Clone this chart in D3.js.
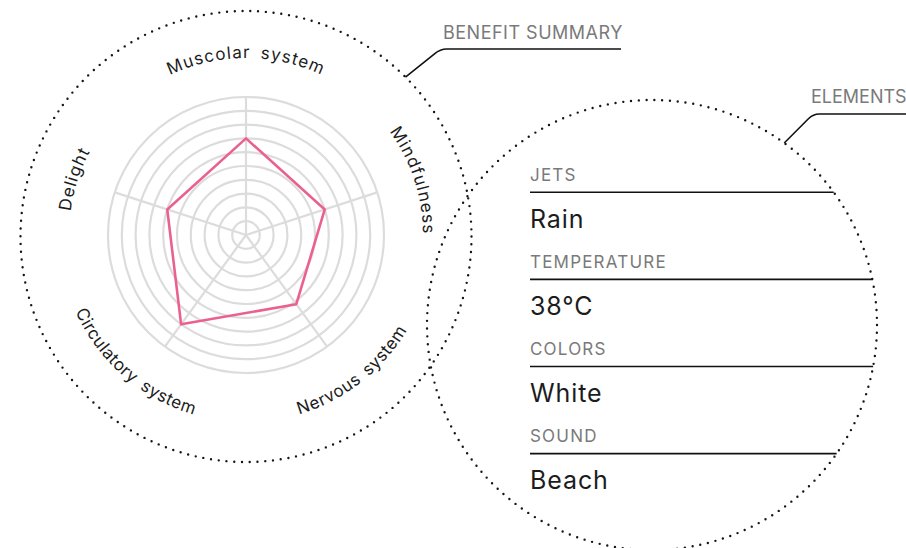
<!DOCTYPE html>
<html><head><meta charset="utf-8">
<script src="https://cdn.jsdelivr.net/npm/d3@7"></script>
<style>
html,body{margin:0;padding:0;background:#fff;}
svg{display:block;}
</style></head><body>
<svg id="chart" width="906" height="548"></svg>
<script>
// ---- data ----
const axes = ["Muscolar system", "Mindfulness", "Nervous system", "Circulatory system", "Delight"];
const benefitValues = [7, 6, 6.2, 8, 6];
const gridLevels = [1, 2, 3, 4, 5, 6, 7, 8, 9, 10];
const elementLabels = ["JETS", "TEMPERATURE", "COLORS", "SOUND"];
const elementValues = ["Rain", "38°C", "White", "Beach"];
const panelTitles = ["BENEFIT SUMMARY", "ELEMENTS"];

// ---- layout / style ----
const labelNudgeDeg = [0, 0, -2, 5, 0];

// ---- drawing ----
const svg = d3.select("#chart");
const FONT = "Inter, 'Noto Sans', sans-serif";
const GRAY = "#7a7a7a", INK = "#1c1c1c";

const cx = 246, cy = 235, maxR = 138;
const leftCircle = {x: 246, y: 236.5, r: 225.5};
const rightCircle = {x: 652, y: 325, r: 225};

const angle = d3.scalePoint().domain(axes).range([0, 2 * Math.PI * (axes.length - 1) / axes.length]);
const rScale = d3.scaleLinear().domain([0, d3.max(gridLevels)]).range([0, maxR]);
const pt = (a, r, c) => [c.x + r * Math.sin(a), c.y - r * Math.cos(a)];

// dotted circles
function dotted(c) {
  const circ = 2 * Math.PI * c.r;
  const n = Math.round(circ / 7.8);
  svg.append("circle").attr("cx", c.x).attr("cy", c.y).attr("r", c.r)
    .attr("fill", "none").attr("stroke", "#161616").attr("stroke-width", 2.4)
    .attr("stroke-linecap", "round").attr("stroke-dasharray", `0 ${circ / n}`);
}
dotted(leftCircle);
dotted(rightCircle);

const radar = svg.append("g").attr("transform", `translate(${cx},${cy})`);
radar.selectAll("circle.ring").data(gridLevels).join("circle")
  .attr("class", "ring").attr("r", d => rScale(d))
  .attr("fill", "none").attr("stroke", "#dcdcdc").attr("stroke-width", 2.2);
radar.selectAll("line.spoke").data(axes).join("line")
  .attr("class", "spoke")
  .attr("x1", 0).attr("y1", 0)
  .attr("x2", d => rScale(d3.max(gridLevels)) * Math.sin(angle(d)))
  .attr("y2", d => -rScale(d3.max(gridLevels)) * Math.cos(angle(d)))
  .attr("stroke", "#dcdcdc").attr("stroke-width", 2.2);

const series = axes.map((a, i) => ({axis: a, value: benefitValues[i]}));
const radial = d3.lineRadial().angle(d => angle(d.axis)).radius(d => rScale(d.value)).curve(d3.curveLinearClosed);
radar.append("path").datum(series).attr("d", radial)
  .attr("fill", "none").attr("stroke", "#ea6190").attr("stroke-width", 2.6)
  .attr("stroke-linejoin", "round");

// curved axis labels
const defs = svg.append("defs");
const c0 = {x: cx, y: cy};
axes.forEach((name, i) => {
  const a = angle(name) + labelNudgeDeg[i] * Math.PI / 180;
  const top = Math.cos(angle(name)) >= 0;
  const R = top ? 177 : 187;
  const h = Math.PI / 2;
  let d;
  if (top) {
    const p1 = pt(a - h, R, c0), p2 = pt(a + h, R, c0);
    d = `M${p1[0]},${p1[1]} A${R},${R} 0 0 1 ${p2[0]},${p2[1]}`;
  } else {
    const p1 = pt(a + h, R, c0), p2 = pt(a - h, R, c0);
    d = `M${p1[0]},${p1[1]} A${R},${R} 0 0 0 ${p2[0]},${p2[1]}`;
  }
  defs.append("path").attr("id", "lab" + i).attr("d", d);
  svg.append("text")
    .attr("font-family", FONT).attr("font-size", 17).attr("fill", INK)
    .attr("letter-spacing", top ? 1.1 : 0.5).attr("word-spacing", top ? 4 : 3)
    .append("textPath").attr("href", "#lab" + i)
    .attr("startOffset", "50%").attr("text-anchor", "middle")
    .text(name);
});

// titles with leader lines
function leader(start, cornerY, slope, endX) {
  const bx = start[0] + (start[1] - cornerY) / slope;
  const k = 6;
  const pre = [bx - (k * 0.8) / slope, cornerY + k * 0.8];
  return `M${start[0]},${start[1]} L${pre[0]},${pre[1]} Q${bx},${cornerY} ${bx + k},${cornerY} L${endX},${cornerY}`;
}
const sL = pt(Math.PI / 4, leftCircle.r, leftCircle);
svg.append("path").attr("d", leader(sL, 49, 0.8, 621))
  .attr("fill", "none").attr("stroke", "#111").attr("stroke-width", 1.6);
svg.append("text").attr("x", 443).attr("y", 39)
  .attr("font-family", FONT).attr("font-size", 18).attr("fill", GRAY)
  .attr("letter-spacing", 0.5).text(panelTitles[0]);

const sR = pt(36 * Math.PI / 180, rightCircle.r, rightCircle);
svg.append("path").attr("d", leader(sR, 114, 1.0, 906))
  .attr("fill", "none").attr("stroke", "#111").attr("stroke-width", 1.6);
svg.append("text").attr("x", 811).attr("y", 103)
  .attr("font-family", FONT).attr("font-size", 18).attr("fill", GRAY)
  .attr("letter-spacing", 0).text(panelTitles[1]);

// elements rows
const rowY = d3.scalePoint().domain(elementLabels).range([192.3, 192.3 + 87.1 * 3]);
const rows = svg.selectAll("g.row").data(elementLabels).join("g").attr("class", "row");
rows.append("text").attr("x", 530).attr("y", d => rowY(d) - 11.6)
  .attr("font-family", FONT).attr("font-size", 17).attr("fill", GRAY)
  .attr("letter-spacing", 1.2).text(d => d);
rows.append("line").attr("x1", 530)
  .attr("x2", d => rightCircle.x + Math.sqrt(rightCircle.r ** 2 - (rowY(d) - rightCircle.y) ** 2))
  .attr("y1", d => rowY(d)).attr("y2", d => rowY(d))
  .attr("stroke", "#111").attr("stroke-width", 1.6);
rows.append("text").attr("x", 530).attr("y", d => rowY(d) + 35.5)
  .attr("font-family", FONT).attr("font-size", 25).attr("fill", INK)
  .attr("letter-spacing", 0.9).text((d, i) => elementValues[i]);
</script>
</body></html>
